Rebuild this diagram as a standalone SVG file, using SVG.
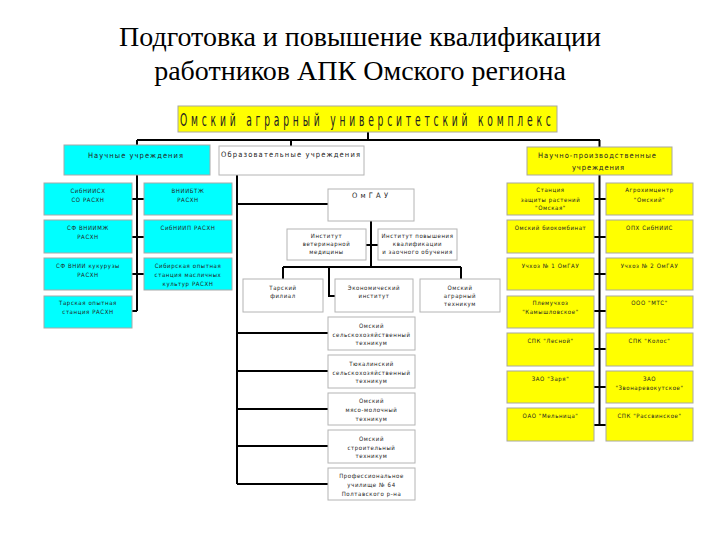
<svg xmlns="http://www.w3.org/2000/svg" width="720" height="540" viewBox="0 0 720 540">
<style>
.bg{fill:#ffffff}
.title{font-family:"Liberation Serif","Times New Roman",serif;font-size:28px;fill:#000;text-anchor:middle}
.bc{fill:#00ffff;stroke:#a8a8a8;stroke-width:1}
.by{fill:#ffff00;stroke:#a8a8a0;stroke-width:1}
.bw{fill:#ffffff;stroke:#b4b4b4;stroke-width:1}
.t{font-family:"Liberation Sans Narrow","DejaVu Sans Condensed","Liberation Sans",sans-serif;font-size:6px;letter-spacing:0.6px;fill:#222;text-anchor:middle}
.h{font-family:"Liberation Sans Narrow","DejaVu Sans Condensed","Liberation Sans",sans-serif;font-size:7.5px;fill:#222}
.top{font-family:"Liberation Sans Narrow","DejaVu Sans Condensed","Liberation Sans",sans-serif;font-size:17px;fill:#222}
.ln{stroke:#000;stroke-width:2;fill:none}
</style>
<rect class="bg" x="0" y="0" width="720" height="540"/>
<g id="title">
<text class="title" x="360" y="46">Подготовка и повышение квалификации</text>
<text class="title" x="360" y="80">работников АПК Омского региона</text>
</g>
<g id="connectors">
<path class="ln" d="M368,132 V140 M137,140 H600 M137,140 V146 M291,140 V146 M599.5,140 V147"/>
<path class="ln" d="M137,175 V311 M132,199 H144 M132,237 H144 M132,274 H144 M132,311 H137"/>
<path class="ln" d="M599.5,175 V425 M594,199 H606 M594,237 H606 M594,274 H606 M594,311 H606 M594,349 H606 M594,387 H606 M594,425 H606"/>
<path class="ln" d="M237,175 V484 M237,204 H328 M371,221 V267 M366,245 H378 M283,267 H461 M283,267 V279 M461,267 V279 M329,267 V296 H335"/>
<path class="ln" d="M237,333 H328 M237,371 H328 M237,409 H328 M237,446 H328 M237,484 H328"/>
</g>
<g id="root">
<rect class="by" x="178" y="106" width="379" height="26"/>
<text class="top" transform="scale(0.6,1)" x="300" y="126" textLength="618" lengthAdjust="spacing">Омский аграрный университетский комплекс</text>
</g>
<g id="sci">
<rect class="bc" x="64" y="145" width="146" height="30"/>
<text class="h" x="88" y="158" textLength="95" lengthAdjust="spacing">Научные учреждения</text>
</g>
<g id="edu">
<rect class="bw" x="219" y="146" width="145" height="29"/>
<text class="h" x="221" y="157" textLength="139" lengthAdjust="spacing">Образовательные учреждения</text>
</g>
<g id="prod">
<rect class="by" x="527" y="147" width="145" height="28"/>
<text class="h" x="538" y="158" textLength="118" lengthAdjust="spacing">Научно-производственные</text>
<text class="h" x="572" y="170" textLength="52" lengthAdjust="spacing">учреждения</text>
</g>
<g id="l1"><rect class="bc" x="44" y="183" width="88" height="32"/><text class="t" x="88" y="192.5">СибНИИСХ</text><text class="t" x="88" y="201.5">СО РАСХН</text></g>
<g id="l2"><rect class="bc" x="44" y="220" width="88" height="33"/><text class="t" x="88" y="229.5">СФ ВНИИМЖ</text><text class="t" x="88" y="238.5">РАСХН</text></g>
<g id="l3"><rect class="bc" x="44" y="258" width="88" height="32"/><text class="t" x="88" y="267.5">СФ ВНИИ кукурузы</text><text class="t" x="88" y="276.5">РАСХН</text></g>
<g id="l4"><rect class="bc" x="44" y="296" width="88" height="32"/><text class="t" x="88" y="305">Тарская опытная</text><text class="t" x="88" y="314">станция РАСХН</text></g>
<g id="l5"><rect class="bc" x="144" y="183" width="88" height="32"/><text class="t" x="188" y="192.5">ВНИИБТЖ</text><text class="t" x="188" y="201.5">РАСХН</text></g>
<g id="l6"><rect class="bc" x="144" y="220" width="88" height="33"/><text class="t" x="188" y="229.5">СибНИИП РАСХН</text></g>
<g id="l7"><rect class="bc" x="144" y="258" width="88" height="32"/><text class="t" x="188" y="268">Сибирская опытная</text><text class="t" x="188" y="276.5">станция масличных</text><text class="t" x="188" y="285.5">культур РАСХН</text></g>
<g id="omgau"><rect class="bw" x="328" y="189" width="86" height="32"/><text class="h" x="352" y="198" textLength="36" lengthAdjust="spacing">ОмГАУ</text></g>
<g id="ivm"><rect class="bw" x="287" y="229" width="79" height="31"/><text class="t" x="326.5" y="237.5">Институт</text><text class="t" x="326.5" y="245.5">ветеринарной</text><text class="t" x="326.5" y="253.5">медицины</text></g>
<g id="ipk"><rect class="bw" x="378" y="229" width="79" height="31"/><text class="t" x="417.5" y="237.5">Институт повышения</text><text class="t" x="417.5" y="245.5">квалификации</text><text class="t" x="417.5" y="253.5">и заочного обучения</text></g>
<g id="tara"><rect class="bw" x="243" y="279" width="80" height="33"/><text class="t" x="283" y="290">Тарский</text><text class="t" x="283" y="298">филиал</text></g>
<g id="econ"><rect class="bw" x="335" y="279" width="78" height="33"/><text class="t" x="374" y="290">Экономический</text><text class="t" x="374" y="298">институт</text></g>
<g id="agrotech"><rect class="bw" x="420" y="279" width="80" height="33"/><text class="t" x="460" y="290">Омский</text><text class="t" x="460" y="298">аграрный</text><text class="t" x="460" y="306">техникум</text></g>
<g id="m1"><rect class="bw" x="328" y="317" width="87" height="33"/><text class="t" x="371.5" y="327.5">Омский</text><text class="t" x="371.5" y="336.5">сельскохозяйственный</text><text class="t" x="371.5" y="345">техникум</text></g>
<g id="m2"><rect class="bw" x="328" y="355" width="87" height="33"/><text class="t" x="371.5" y="365.5">Тюкалинский</text><text class="t" x="371.5" y="374.5">сельскохозяйственный</text><text class="t" x="371.5" y="383">техникум</text></g>
<g id="m3"><rect class="bw" x="328" y="393" width="87" height="32"/><text class="t" x="371.5" y="403">Омский</text><text class="t" x="371.5" y="412">мясо-молочный</text><text class="t" x="371.5" y="420.5">техникум</text></g>
<g id="m4"><rect class="bw" x="328" y="430" width="87" height="33"/><text class="t" x="371.5" y="440.5">Омский</text><text class="t" x="371.5" y="449.5">строительный</text><text class="t" x="371.5" y="458">техникум</text></g>
<g id="m5"><rect class="bw" x="328" y="468" width="87" height="32"/><text class="t" x="371.5" y="478">Профессиональное</text><text class="t" x="371.5" y="487">училище № 64</text><text class="t" x="371.5" y="495.5">Полтавского р-на</text></g>
<g id="r1"><rect class="by" x="507" y="183" width="87" height="32"/><text class="t" x="550.5" y="192">Станция</text><text class="t" x="550.5" y="201.5">защиты растений</text><text class="t" x="550.5" y="210">"Омская"</text></g>
<g id="r2"><rect class="by" x="606" y="183" width="87" height="32"/><text class="t" x="649.5" y="192">Агрохимцентр</text><text class="t" x="649.5" y="201.5">"Омский"</text></g>
<g id="r3"><rect class="by" x="507" y="220" width="87" height="33"/><text class="t" x="550.5" y="229.5">Омский биокомбинат</text></g>
<g id="r4"><rect class="by" x="606" y="220" width="87" height="33"/><text class="t" x="649.5" y="229.5">ОПХ СибНИИС</text></g>
<g id="r5"><rect class="by" x="507" y="258" width="87" height="32"/><text class="t" x="550.5" y="267.5">Учхоз № 1 ОмГАУ</text></g>
<g id="r6"><rect class="by" x="606" y="258" width="87" height="32"/><text class="t" x="649.5" y="267.5">Учхоз № 2 ОмГАУ</text></g>
<g id="r7"><rect class="by" x="507" y="296" width="87" height="32"/><text class="t" x="550.5" y="305">Племучхоз</text><text class="t" x="550.5" y="314">"Камышловское"</text></g>
<g id="r8"><rect class="by" x="606" y="296" width="87" height="32"/><text class="t" x="649.5" y="305">ООО "МТС"</text></g>
<g id="r9"><rect class="by" x="507" y="333" width="87" height="33"/><text class="t" x="550.5" y="342.5">СПК "Лесной"</text></g>
<g id="r10"><rect class="by" x="606" y="333" width="87" height="33"/><text class="t" x="649.5" y="342.5">СПК "Колос"</text></g>
<g id="r11"><rect class="by" x="507" y="371" width="87" height="32"/><text class="t" x="550.5" y="380.5">ЗАО "Заря"</text></g>
<g id="r12"><rect class="by" x="606" y="371" width="87" height="32"/><text class="t" x="649.5" y="380.5">ЗАО</text><text class="t" x="649.5" y="389.5">"Звонаревокутское"</text></g>
<g id="r13"><rect class="by" x="507" y="408" width="87" height="33"/><text class="t" x="550.5" y="417.5">ОАО "Мельница"</text></g>
<g id="r14"><rect class="by" x="606" y="408" width="87" height="33"/><text class="t" x="649.5" y="417.5">СПК "Рассвинское"</text></g>
</svg>
